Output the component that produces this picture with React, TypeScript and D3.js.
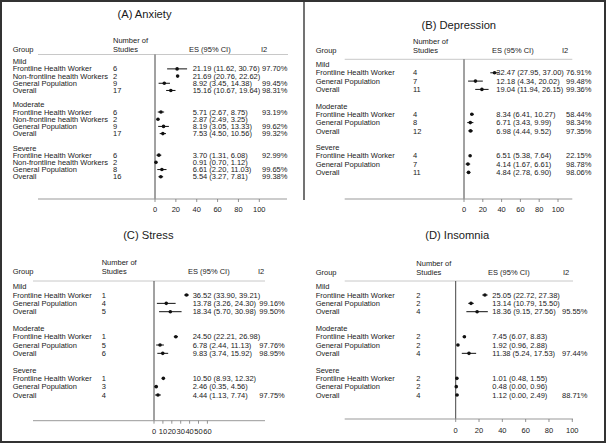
import React from "react";
import * as d3 from "d3";

// ---------------- DATA ----------------
const subgroupNames = ["Mild", "Moderate", "Severe"];

const anxietyLabels = ["Frontline Health Worker", "Non-frontline health Workers", "General Population", "Overall"];
const anxietyN = [[6, 2, 9, 17], [6, 2, 9, 17], [6, 2, 8, 16]];
const anxietyES = [[21.19, 21.69, 8.92, 15.16], [5.71, 2.87, 8.19, 7.53], [3.70, 0.91, 6.61, 5.54]];
const anxietyLo = [[11.62, 20.76, 3.45, 10.67], [2.67, 2.49, 3.05, 4.50], [1.31, 0.70, 2.20, 3.27]];
const anxietyHi = [[30.76, 22.62, 14.38, 19.64], [8.75, 3.25, 13.33, 10.56], [6.08, 1.12, 11.03, 7.81]];
const anxietyI2 = [["97.70%", "", "99.45%", "98.31%"], ["93.19%", "", "99.62%", "99.32%"], ["92.99%", "", "99.65%", "99.38%"]];
const anxietyTicks = [0, 20, 40, 60, 80, 100];

const depressionLabels = ["Frontline Health Worker", "General Population", "Overall"];
const depressionN = [[4, 7, 11], [4, 8, 12], [4, 7, 11]];
const depressionES = [[32.47, 12.18, 19.04], [8.34, 6.71, 6.98], [6.51, 4.14, 4.84]];
const depressionLo = [[27.95, 4.34, 11.94], [6.41, 3.43, 4.44], [5.38, 1.67, 2.78]];
const depressionHi = [[37.00, 20.02, 26.15], [10.27, 9.99, 9.52], [7.64, 6.61, 6.90]];
const depressionI2 = [["76.91%", "99.48%", "99.36%"], ["58.44%", "98.34%", "97.35%"], ["22.15%", "98.78%", "98.06%"]];
const depressionTicks = [0, 20, 40, 60, 80, 100];

const stressLabels = ["Frontline Health Worker", "General Population", "Overall"];
const stressN = [[1, 4, 5], [1, 5, 6], [1, 3, 4]];
const stressES = [[36.52, 13.78, 18.34], [24.50, 6.78, 9.83], [10.50, 2.46, 4.44]];
const stressLo = [[33.90, 3.26, 5.70], [22.21, 2.44, 3.74], [8.93, 0.35, 1.13]];
const stressHi = [[39.21, 24.30, 30.98], [26.98, 11.13, 15.92], [12.32, 4.56, 7.74]];
const stressI2 = [["", "99.16%", "99.50%"], ["", "97.76%", "98.95%"], ["", "", "97.75%"]];
const stressTicks = [0, 10, 20, 30, 40, 50, 60];

const insomniaLabels = ["Frontline Health Worker", "General Population", "Overall"];
const insomniaN = [[2, 2, 4], [2, 2, 4], [2, 2, 4]];
const insomniaES = [[25.05, 13.14, 18.36], [7.45, 1.92, 11.38], [1.01, 0.48, 1.12]];
const insomniaLo = [[22.72, 10.79, 9.15], [6.07, 0.96, 5.24], [0.48, 0.00, 0.00]];
const insomniaHi = [[27.38, 15.50, 27.56], [8.83, 2.88, 17.53], [1.55, 0.96, 2.49]];
const insomniaI2 = [["", "", "95.55%"], ["", "", "97.44%"], ["", "", "88.71%"]];
const insomniaTicks = [0, 20, 40, 60, 80, 100];

// ---------------- LAYOUT ----------------
type Layout = {
  title: string; titleX: number; titleY: number;
  numY: number; headY: number;
  lineY: number; lineX0: number; lineX1: number;
  groupX: number; nX: number; esHX: number; esX: number; i2HX: number; i2X: number;
  zeroX: number; unit: number;
  row0: number; rowStep: number;
  axisY: number; axisX0: number; axisX1: number; tickLabY: number;
};

const FONT = "'Liberation Sans', Arial, sans-serif";
const TXT = "#1a1a1a";

function Panel({ L, labels, N, ES, Lo, Hi, I2, ticks }: any) {
  const lay: Layout = L;
  const nPer = labels.length;
  const x = d3.scaleLinear().domain([0, 1]).range([lay.zeroX, lay.zeroX + lay.unit]);
  const y = d3.scaleLinear().domain([0, 1]).range([lay.row0, lay.row0 + lay.rowStep]);
  const rows: any[] = [];
  subgroupNames.forEach((g, gi) => {
    const base = gi * (nPer + 2);
    rows.push({ type: "head", idx: base, text: g });
    labels.forEach((lab: string, li: number) => {
      rows.push({
        type: "row", idx: base + 1 + li, text: lab, n: N[gi][li],
        es: ES[gi][li], lo: Lo[gi][li], hi: Hi[gi][li], i2: I2[gi][li],
      });
    });
  });
  const fs = 7.5;
  return (
    <g fontFamily={FONT} fill={TXT}>
      <text x={lay.titleX} y={lay.titleY} fontSize={11.2} textAnchor="middle">{lay.title}</text>
      <text x={lay.nX} y={lay.numY} fontSize={fs}>Number of</text>
      <text x={lay.groupX} y={lay.headY} fontSize={fs}>Group</text>
      <text x={lay.nX} y={lay.headY} fontSize={fs}>Studies</text>
      <text x={lay.esHX} y={lay.headY} fontSize={fs}>ES (95% CI)</text>
      <text x={lay.i2HX} y={lay.headY} fontSize={fs}>I2</text>
      <line x1={lay.lineX0} x2={lay.lineX1} y1={lay.lineY} y2={lay.lineY} stroke="#c8c8c8" strokeWidth={1} />
      <line x1={x(0)} x2={x(0)} y1={lay.lineY} y2={lay.axisY} stroke="#444" strokeWidth={1} />
      <line x1={lay.axisX0} x2={lay.axisX1} y1={lay.axisY} y2={lay.axisY} stroke="#999" strokeWidth={1} />
      {ticks.map((t: number) => (
        <g key={t}>
          <line x1={x(t)} x2={x(t)} y1={lay.axisY} y2={lay.axisY + 3} stroke="#777" strokeWidth={0.8} />
          <text x={x(t)} y={lay.tickLabY} fontSize={fs} textAnchor="middle">{t}</text>
        </g>
      ))}
      {rows.map((r: any, i: number) => {
        const yy = y(r.idx);
        if (r.type === "head") {
          return <text key={i} x={lay.groupX} y={yy + 2.6} fontSize={fs}>{r.text}</text>;
        }
        return (
          <g key={i}>
            <text x={lay.groupX} y={yy + 2.6} fontSize={fs}>{r.text}</text>
            <text x={lay.nX} y={yy + 2.6} fontSize={fs}>{r.n}</text>
            <line x1={x(r.lo)} x2={x(r.hi)} y1={yy} y2={yy} stroke="#111" strokeWidth={1} />
            <circle cx={x(r.es)} cy={yy} r={1.8} fill="#111" />
            <text x={lay.esX} y={yy + 2.6} fontSize={fs}>{`${r.es.toFixed(2)} (${r.lo.toFixed(2)}, ${r.hi.toFixed(2)})`}</text>
            {r.i2 ? <text x={lay.i2X} y={yy + 2.6} fontSize={fs}>{r.i2}</text> : null}
          </g>
        );
      })}
    </g>
  );
}

const layoutA: Layout = {
  title: "(A) Anxiety", titleX: 144.5, titleY: 18,
  numY: 43, headY: 51.5, lineY: 54.5, lineX0: 38, lineX1: 288,
  groupX: 12.7, nX: 113, esHX: 189, esX: 192.7, i2HX: 261, i2X: 262,
  zeroX: 155, unit: 1.043, row0: 61.7, rowStep: 7.19,
  axisY: 199, axisX0: 38, axisX1: 287, tickLabY: 212,
};
const layoutB: Layout = {
  title: "(B) Depression", titleX: 458.8, titleY: 29.3,
  numY: 44, headY: 53, lineY: 59.3, lineX0: 344.7, lineX1: 572.3,
  groupX: 315.7, nX: 413, esHX: 492, esX: 496.3, i2HX: 562, i2X: 566,
  zeroX: 464, unit: 0.94, row0: 64.5, rowStep: 8.3,
  axisY: 199, axisX0: 344.7, axisX1: 572.3, tickLabY: 212,
};
const layoutC: Layout = {
  title: "(C) Stress", titleX: 148.3, titleY: 239,
  numY: 264.5, headY: 274, lineY: 281, lineX0: 33, lineX1: 265,
  groupX: 12.7, nX: 101.7, esHX: 188, esX: 192.7, i2HX: 258, i2X: 259.3,
  zeroX: 154, unit: 0.89, row0: 286.7, rowStep: 8.33,
  axisY: 420.7, axisX0: 33, axisX1: 265, tickLabY: 433.5,
};
const layoutD: Layout = {
  title: "(D) Insomnia", titleX: 457.2, titleY: 239,
  numY: 266, headY: 274.5, lineY: 281, lineX0: 344.7, lineX1: 573,
  groupX: 315.7, nX: 416.3, esHX: 488, esX: 492.3, i2HX: 563, i2X: 562,
  zeroX: 455.7, unit: 1.166, row0: 286.7, rowStep: 8.33,
  axisY: 419, axisX0: 344.7, axisX1: 573, tickLabY: 432.5,
};

export default function App() {
  return (
    <svg width={606} height={443} style={{ position: "absolute", left: 0, top: 0, background: "#fff" }}>
      <rect x={0} y={0} width={606} height={443} fill="#fff" />
      <Panel L={layoutA} labels={anxietyLabels} N={anxietyN} ES={anxietyES} Lo={anxietyLo} Hi={anxietyHi} I2={anxietyI2} ticks={anxietyTicks} />
      <Panel L={layoutB} labels={depressionLabels} N={depressionN} ES={depressionES} Lo={depressionLo} Hi={depressionHi} I2={depressionI2} ticks={depressionTicks} />
      <Panel L={layoutC} labels={stressLabels} N={stressN} ES={stressES} Lo={stressLo} Hi={stressHi} I2={stressI2} ticks={stressTicks} />
      <Panel L={layoutD} labels={insomniaLabels} N={insomniaN} ES={insomniaES} Lo={insomniaLo} Hi={insomniaHi} I2={insomniaI2} ticks={insomniaTicks} />
      <line x1={304} x2={304} y1={0} y2={200} stroke="#444" strokeWidth={1.5} />
      <rect x={1} y={1} width={604} height={441} fill="none" stroke="#333" strokeWidth={2} />
    </svg>
  );
}
